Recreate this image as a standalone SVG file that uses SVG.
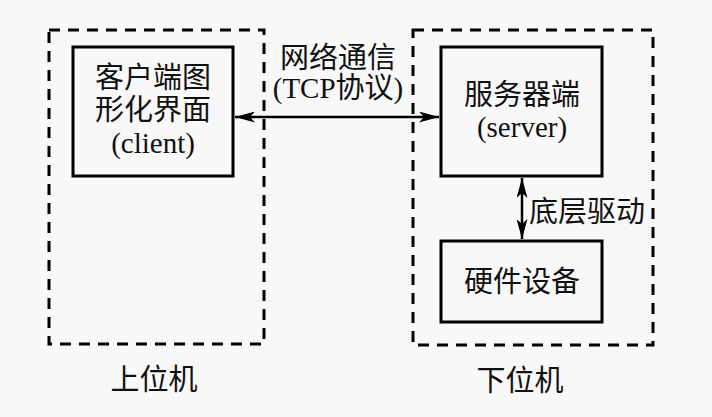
<svg xmlns="http://www.w3.org/2000/svg" width="712" height="417" viewBox="0 0 712 417">
<defs>
<style>
.dash{fill:none;stroke:#000;stroke-width:3;stroke-dasharray:11 8}
.box{fill:none;stroke:#000;stroke-width:3}
.t{font-family:"Liberation Serif","Noto Sans CJK SC",serif;font-size:29px;fill:#111;text-anchor:middle}
.ln{stroke:#000;stroke-width:2.5;fill:none}
</style>
<marker id="ah" viewBox="0 0 20 11" refX="20" refY="5.5" markerWidth="20" markerHeight="11" markerUnits="userSpaceOnUse" orient="auto-start-reverse">
<path d="M0,0 L20,5.5 L0,11 L5,5.5 Z" fill="#000"/>
</marker>
</defs>
<rect width="712" height="417" fill="#f8f8f8"/>
<g id="upper">
<rect class="dash" x="49" y="30" width="215" height="314"/>
<text class="t" x="154" y="390">上位机</text>
</g>
<g id="lower">
<rect class="dash" x="413" y="30" width="240" height="315"/>
<text class="t" x="520" y="391">下位机</text>
</g>
<g id="client">
<rect class="box" x="73" y="47" width="160" height="129"/>
<text class="t" x="153" y="88">客户端图</text>
<text class="t" x="153" y="120">形化界面</text>
<text class="t" x="153" y="153">(client)</text>
</g>
<g id="server">
<rect class="box" x="441" y="47" width="161" height="129"/>
<text class="t" x="522" y="105">服务器端</text>
<text class="t" x="522" y="137">(server)</text>
</g>
<g id="hardware">
<rect class="box" x="441" y="241" width="161" height="81"/>
<text class="t" x="522" y="292">硬件设备</text>
</g>
<g id="connectors">
<line class="ln" x1="235" y1="117" x2="439" y2="117" marker-start="url(#ah)" marker-end="url(#ah)"/>
<text class="t" x="338" y="68">网络通信</text>
<text class="t" x="338" y="98">(TCP协议)</text>
<line class="ln" x1="522" y1="178" x2="522" y2="239" marker-start="url(#ah)" marker-end="url(#ah)"/>
<text class="t" x="587" y="222">底层驱动</text>
</g>
</svg>
